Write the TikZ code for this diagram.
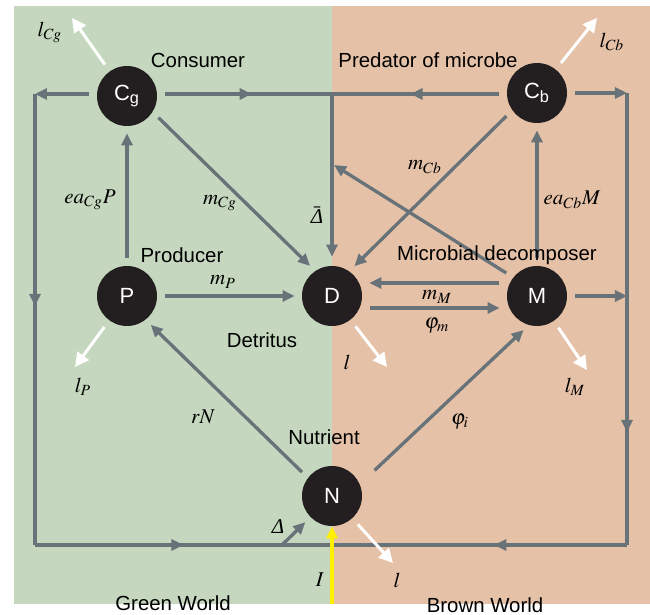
\documentclass[tikz,border=0pt]{standalone}
\usepackage{mathptmx}
\usepackage[no-math]{fontspec}
\setsansfont{Liberation Sans}
\newfontfamily\greekit{Liberation Serif}
\newcommand{\ditl}{\hbox{\greekit\itshape Δ}}
\usetikzlibrary{positioning, arrows.meta, decorations.markings}

\definecolor{greenworld}{RGB}{197,215,190}
\definecolor{brownworld}{RGB}{229,193,167}
\definecolor{linegray}{RGB}{103,115,121}
\definecolor{poolblack}{RGB}{35,31,32}
\definecolor{inputyellow}{RGB}{255,240,0}

\begin{document}
\begin{tikzpicture}[
    x=0.5pt, y=-0.5pt,
    node distance=100pt and 102.5pt, on grid,
    font=\sffamily\fontsize{10.2}{12}\selectfont,
    % Define styles for pools and fluxes
    pool/.style={circle, fill=poolblack, text=white, minimum size=30pt, inner sep=0pt, font=\sffamily\fontsize{11}{13}\selectfont},
    link/.style={draw=linegray, color=linegray, line width=1.65pt},
    flow/.style={link, -{Triangle[length=6pt, width=5.5pt]}, shorten <=4pt, shorten >=3.5pt},
    loss/.style={draw=white, line width=1.5pt, -{Triangle[length=7pt, width=7pt]}, shorten <=4pt},
    rate/.style={font=\fontsize{10.5}{12}\selectfont, inner sep=1pt},
    flowmark/.style={postaction={decorate}, decoration={markings, mark=at position #1 with {\arrow{Triangle[length=6pt, width=5.5pt]}}}}
]

\useasboundingbox (0,0) rectangle (650,615);

% --- Worlds ---
\fill[greenworld] (14,6) rectangle (332,604);
\fill[brownworld] (332,6) rectangle (650,604);

% --- Nodes ---
\node[pool] (D) at (332,296) {D};
\node[pool, left=102.5pt of D] (P) {P};
\node[pool, right=102.5pt of D] (M) {M};
\node[pool, above=100pt of P] (Cg) {C\textsubscript{g}};
\node[pool, above=101.5pt of M] (Cb) {C\textsubscript{b}};
\node[pool, below=100pt of D] (N) {N};

% Loop corners and junctions
\coordinate (tl) at (35,94);
\coordinate (tr) at (627,93);
\coordinate (bl) at (35,545);
\coordinate (br) at (627,545);
\coordinate (jt) at (332,94);
\coordinate (jb) at (332,545);
\coordinate (jd) at (282,545);
\coordinate (dm) at (334,165);
\coordinate (in) at (332,604);

% Loss ends
\coordinate (lossCg) at (72,18);
\coordinate (lossCb) at (597,18);
\coordinate (lossP) at (75,367);
\coordinate (lossD) at (387,367);
\coordinate (lossM) at (587,370);
\coordinate (lossN) at (393,563);

% --- Recycling loops ---
\draw[flow, shorten >=0pt] (Cg.west |- tl) -- (tl);
\draw[link, flowmark=0.47] (tl) -- (bl);
\draw[link, flowmark=0.5] (bl) -- (jb);
\draw[flow, shorten >=0pt] (Cb) -- (Cb -| tr);
\draw[flow, shorten >=0pt] (M) -- (M -| tr);
\draw[link, flowmark=0.75] (tr) -- (br);
\draw[link, flowmark=0.45] (br) -- (jb);
\draw[flow, shorten <=0pt] (jd) -- (N);

% Top line into detritus
\draw[link, shorten <=4pt, flowmark=0.54] (Cg.east |- jt) -- (jt);
\draw[link, shorten <=4pt, flowmark=0.55] (Cb.west |- jt) -- (jt);
\draw[flow, shorten <=0pt, shorten >=4.5pt] (jt) -- (D);
\draw[flow, shorten >=0pt] (M.142) -- (dm);

% --- Fluxes ---
\draw[flow] (P) -- (Cg);
\draw[flow] (M) -- (Cb);
\draw[flow] (Cg.-32) -- (D.124);
\draw[flow] (Cb.-145) -- (D.55);
\draw[flow] (P) -- (D);
\draw[flow] ([yshift=6.5pt]M.west) -- ([yshift=6.5pt]D.east);
\draw[flow] ([yshift=-6pt]D.east) -- ([yshift=-6pt]M.west);
\draw[flow] (N.143) -- (P.-52);
\draw[flow, shorten <=10pt] (N.23) -- (M.-106);

% Input
\draw[draw=inputyellow, line width=1.65pt, -{Triangle[length=6pt, width=5.5pt]}, inputyellow] (in) -- (N);

% Losses
\draw[loss] (Cg) -- (lossCg);
\draw[loss] (Cb) -- (lossCb);
\draw[loss] (P) -- (lossP);
\draw[loss] (D) -- (lossD);
\draw[loss] (M) -- (lossM);
\draw[loss] (N) -- (lossN);

% --- Labels ---
\node (tCg) at (198,60) {Consumer};
\node (tCb) at (428,60) {Predator of microbe};
\node (tP) at (182,255) {Producer};
\node (tD) at (262,340) {Detritus};
\node (tM) at (497,255) {Microbial decomposer};
\node (tN) at (324,437) {Nutrient};
\node (tgreen) at (173,603) {Green World};
\node (tbrown) at (485,605) {Brown World};

\node[rate] (rlCg) at (50,32) {$l_{Cg}$};
\node[rate] (rlCb) at (612,42) {$l_{Cb}$};
\node[rate] (rlP) at (83,387) {$l_P$};
\node[rate] (rlD) at (347,362) {$l$};
\node[rate] (rlM) at (575,387) {$l_M$};
\node[rate] (rlN) at (397,580) {$l$};
\node[rate] (rmCg) at (220,203) {$m_{Cg}$};
\node[rate] (rmCb) at (425,167) {$m_{Cb}$};
\node[rate] (reCg) at (90,200) {$ea_{Cg}P$};
\node[rate] (reCb) at (572,200) {$ea_{Cb}M$};
\node[rate] (rdbar) at (317,215) {$\bar{\ditl}$};
\node[rate] (rmP) at (223,282) {$m_P$};
\node[rate] (rmM) at (437,297) {$m_M$};
\node[rate] (rphim) at (437,326) {$\varphi_m$};
\node[rate] (rrN) at (203,417) {$rN$};
\node[rate] (rphii) at (460,422) {$\varphi_i$};
\node[rate] (rdelta) at (278,527) {\ditl};
\node[rate] (rI) at (320,580) {$I$};

\end{tikzpicture}
\end{document}
